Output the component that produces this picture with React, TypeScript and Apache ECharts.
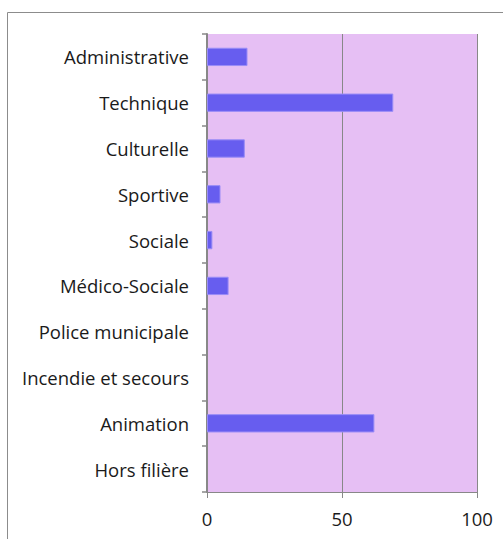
import React, { useEffect, useRef } from "react";
import * as echarts from "echarts";

// Effectifs par filière
const categories = [
  "Administrative",
  "Technique",
  "Culturelle",
  "Sportive",
  "Sociale",
  "Médico-Sociale",
  "Police municipale",
  "Incendie et secours",
  "Animation",
  "Hors filière",
];
const values = [15, 69, 14, 5, 2, 8, 0, 0, 62, 0];
const xTicks = [0, 50, 100];

const FONT = "'Open Sans', 'Liberation Sans', sans-serif";

export default function App() {
  const ref = useRef<HTMLDivElement>(null);

  useEffect(() => {
    if (!ref.current) return;
    const chart = echarts.init(ref.current, undefined, { renderer: "svg" });
    chart.setOption({
      animation: false,
      backgroundColor: "#ffffff",
      graphic: [
        {
          type: "rect",
          shape: { x: 7.5, y: 12.5, width: 600, height: 600 },
          style: { fill: "none", stroke: "#8c8c8c", lineWidth: 1 },
          silent: true,
        },
      ],
      grid: {
        left: 207,
        top: 34,
        right: 26,
        bottom: 47,
        show: true,
        backgroundColor: "#E6BFF4",
        borderWidth: 0,
      },
      xAxis: {
        type: "value",
        min: xTicks[0],
        max: xTicks[xTicks.length - 1],
        interval: 50,
        axisLine: { show: true, lineStyle: { color: "#888888", width: 1 } },
        axisTick: { show: true, length: 6, lineStyle: { color: "#888888" } },
        splitLine: { show: true, lineStyle: { color: "#888888", width: 1 } },
        axisLabel: {
          color: "#1a1a1a",
          fontFamily: FONT,
          fontSize: 18.5,
          margin: 17,
        },
      },
      yAxis: {
        type: "category",
        data: categories,
        inverse: true,
        axisLine: { show: true, lineStyle: { color: "#888888", width: 2 } },
        axisTick: {
          show: true,
          length: 5,
          alignWithLabel: false,
          lineStyle: { color: "#888888", width: 1.5 },
        },
        axisLabel: {
          color: "#1a1a1a",
          fontFamily: FONT,
          fontSize: 18.5,
          margin: 18,
        },
      },
      series: [
        {
          type: "bar",
          data: values.map((v) => ({
            value: v,
            itemStyle: v === 0 ? { borderWidth: 0 } : undefined,
          })),
          barWidth: "40%",
          itemStyle: {
            color: "#675DEF",
            borderColor: "#9A8CF6",
            borderWidth: 1,
          },
        },
      ],
    });
    return () => chart.dispose();
  }, []);

  return (
    <div
      ref={ref}
      style={{ position: "fixed", left: 0, top: 0, width: 503, height: 539 }}
    />
  );
}
